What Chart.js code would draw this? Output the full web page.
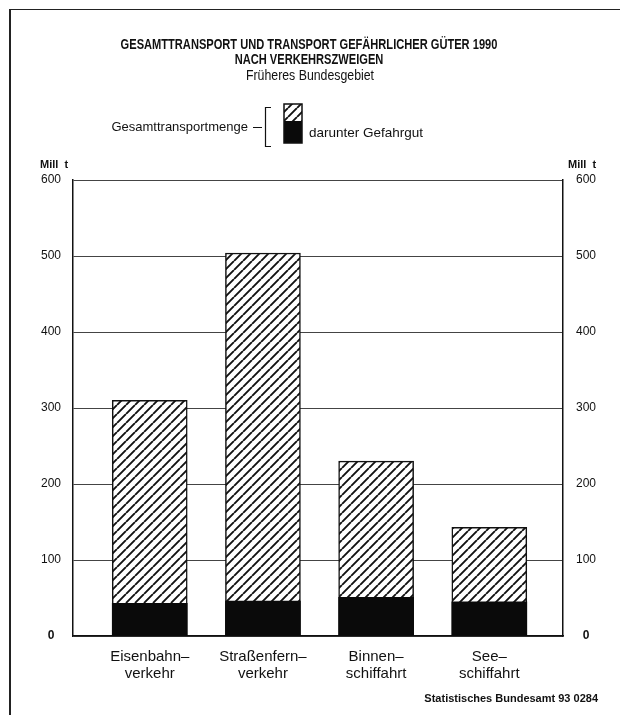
<!DOCTYPE html>
<html><head><meta charset="utf-8">
<script src="https://cdn.jsdelivr.net/npm/chart.js@4.4.1/dist/chart.umd.min.js"></script>
<style>
html,body{margin:0;padding:0;background:#fff;}
#wrap{position:relative;width:620px;height:715px;overflow:hidden;font-family:"Liberation Sans",Arial,sans-serif;color:#111;}
#frame{position:absolute;left:9px;top:9px;width:700px;height:800px;border-top:1.5px solid #222;border-left:2px solid #222;}
#c{position:absolute;left:0;top:0;}
.t{position:absolute;white-space:nowrap;}
.cond{transform:scaleX(0.74);transform-origin:50% 50%;}
</style></head><body>
<div id="wrap">
<div id="frame"></div>
<canvas id="c" width="620" height="715"></canvas>
<div class="t cond" style="left:0;width:618px;top:36px;text-align:center;font-weight:bold;font-size:15px;line-height:15px;">GESAMTTRANSPORT UND TRANSPORT GEFÄHRLICHER GÜTER 1990<br>NACH VERKEHRSZWEIGEN</div>
<div class="t" style="left:0;width:620px;top:67px;text-align:center;font-size:14px;line-height:16px;transform:scaleX(0.88);transform-origin:50% 50%;">Früheres Bundesgebiet</div>
<div class="t" style="right:372px;top:119px;font-size:13px;line-height:16px;">Gesamttransportmenge</div>
<div class="t" style="left:309px;top:125px;font-size:13.5px;line-height:16px;">darunter Gefahrgut</div>
<div class="t" style="left:40px;top:158px;font-size:11px;font-weight:bold;line-height:13px;">Mill&nbsp;&nbsp;t</div>
<div class="t" style="left:568px;top:158px;font-size:11px;font-weight:bold;line-height:13px;">Mill&nbsp;&nbsp;t</div>
<div class="t" style="right:22px;top:692px;font-size:11px;font-weight:bold;line-height:12px;">Statistisches Bundesamt 93 0284</div>
</div>
<script>
const categories = [['Eisenbahn–','verkehr'],['Straßenfern–','verkehr'],['Binnen–','schiffahrt'],['See–','schiffahrt']];
const gesamtmenge = [310, 504, 230, 143];
const gefahrgut = [43, 46, 51, 45];
const yTickValues = [0, 100, 200, 300, 400, 500, 600];
const positions = categories.map((_, i) => i);

function makeHatch(){
  const s = 9;
  const c = document.createElement('canvas'); c.width = s; c.height = s;
  const g = c.getContext('2d');
  g.fillStyle = '#fff'; g.fillRect(0, 0, s, s);
  g.strokeStyle = '#111'; g.lineWidth = 1.9;
  g.beginPath();
  for (const k of [-s, 0, s]) { g.moveTo(k, s); g.lineTo(k + s, 0); }
  g.stroke();
  return document.getElementById('c').getContext('2d').createPattern(c, 'repeat');
}
const hatch = makeHatch();

const legendDecor = {
  id: 'legendDecor',
  afterDraw(chart){
    const g = chart.ctx;
    g.save();
    g.strokeStyle = '#111'; g.lineWidth = 1.2;
    g.beginPath();
    g.moveTo(253, 127.5); g.lineTo(262, 127.5);
    g.moveTo(265.5, 107); g.lineTo(265.5, 147);
    g.moveTo(265, 107.5); g.lineTo(271, 107.5);
    g.moveTo(265, 146.5); g.lineTo(271, 146.5);
    g.stroke();
    g.fillStyle = hatch; g.fillRect(284, 104, 18, 18);
    g.fillStyle = '#0a0a0a'; g.fillRect(284, 121, 18, 22);
    g.strokeStyle = '#111'; g.lineWidth = 1.5; g.strokeRect(284, 104, 18, 39);
    g.restore();
  }
};

const tickFont = (c) => ({ family: 'Liberation Sans', size: 12, weight: (c.tick && c.tick.value === 0) ? 'bold' : 'normal' });

new Chart(document.getElementById('c'), {
  type: 'bar',
  data: {
    datasets: [
      { label: 'darunter Gefahrgut', data: positions.map((x, i) => ({ x, y: gefahrgut[i] })),
        backgroundColor: '#0a0a0a', borderWidth: 0, grouped: false, barThickness: 75 },
      { label: 'Gesamttransportmenge', data: positions.map((x, i) => ({ x, y: gesamtmenge[i] })),
        backgroundColor: hatch, borderColor: '#111', borderWidth: 1.5, borderSkipped: false, grouped: false, barThickness: 75 }
    ]
  },
  options: {
    responsive: false, animation: false, devicePixelRatio: 1,
    layout: { padding: { top: 180, left: 0, right: 0, bottom: 0 } },
    plugins: { legend: { display: false }, tooltip: { enabled: false }, title: { display: false } },
    scales: {
      x: { type: 'linear', min: -0.678, max: 3.651, offset: false,
        grid: { display: false, drawTicks: false },
        border: { display: true, color: '#111', width: 1.5 },
        afterBuildTicks: s => { s.ticks = positions.map(v => ({ value: v })); },
        ticks: { callback: v => categories[v], font: { family: 'Liberation Sans', size: 15, lineHeight: 1.15 },
          color: '#111', padding: 12, maxRotation: 0, autoSkip: false },
        afterFit: s => { s.height = 79; } },
      y: { position: 'left', min: 0, max: 600,
        afterBuildTicks: s => { s.ticks = yTickValues.map(v => ({ value: v })); },
        grid: { color: '#444', lineWidth: 1, drawTicks: false },
        border: { display: true, color: '#111', width: 1.5 },
        ticks: { padding: 12, crossAlign: 'center', font: tickFont, color: '#111' },
        afterFit: s => { s.width = 73; } },
      y2: { position: 'right', min: 0, max: 600,
        afterBuildTicks: s => { s.ticks = yTickValues.map(v => ({ value: v })); },
        grid: { display: false, drawTicks: false },
        border: { display: true, color: '#111', width: 1.5 },
        ticks: { padding: 13, crossAlign: 'center', font: tickFont, color: '#111' },
        afterFit: s => { s.width = 57; } }
    }
  },
  plugins: [legendDecor]
});
</script>
</body></html>
